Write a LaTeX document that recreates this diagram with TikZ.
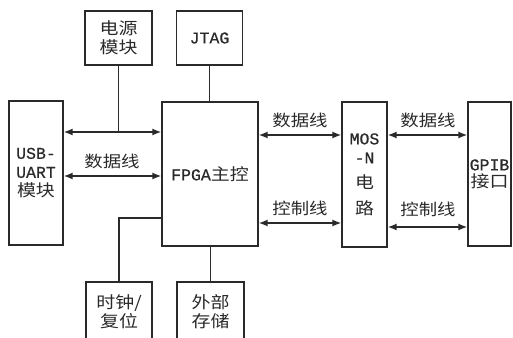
\documentclass[tikz,border=0pt]{standalone}
\usepackage{fontspec}
\setmainfont[FakeBold=0.5]{Liberation Mono}
\newfontfamily\cjk[FakeStretch=1.15]{Noto Sans CJK SC}
\usetikzlibrary{arrows.meta}
\definecolor{ink}{HTML}{2A2A2A}
\tikzset{
  blk/.style={draw=ink, line width=1.3pt, inner sep=0pt, align=center,
              font=\fontsize{16.5}{19}\selectfont, text=ink},
  bus/.style={draw=ink, line width=1.5pt, {Latex[length=9pt,width=7pt]}-{Latex[length=9pt,width=7pt]}},
  wire/.style={draw=ink, line width=1.3pt},
  lbl/.style={font=\fontsize{16}{19}\selectfont\cjk, text=ink, inner sep=0pt}
}
\begin{document}
\begin{tikzpicture}[x=1pt,y=-1pt]
\useasboundingbox (0,0) rectangle (513,337);
\fill[white] (0,0) rectangle (513,337);
% boxes
\node[blk, minimum width=67pt, minimum height=54pt] (pwr) at (118.5,38) {\cjk 电源\\\cjk 模块};
\node[blk, minimum width=66pt, minimum height=54pt] (jtag) at (209.5,38) {JTAG};
\node[blk, minimum width=54pt, minimum height=144pt] (usb) at (36,173) {USB-\\UART\\\cjk 模块};
\node[blk, minimum width=96pt, minimum height=144pt] (fpga) at (210,174) {FPGA{\cjk 主控}};
\node[blk, minimum width=45pt, minimum height=145pt] (mos) at (364.5,174.5) {MOS\\-N\\[6pt]\cjk 电\\[7pt]\cjk 路};
\node[blk, minimum width=43pt, minimum height=144pt] (gpib) at (489.5,174) {GPIB\\[-2pt]\cjk 接口};
\node[blk, minimum width=66pt, minimum height=60pt] (clk) at (119,312) {\cjk 时钟/\\\cjk 复位};
\node[blk, minimum width=67pt, minimum height=60pt] (mem) at (210.5,312) {\cjk 外部\\\cjk 存储};
% helper coordinates
\coordinate (yA) at (0,132);
\coordinate (yB) at (0,176);
\coordinate (yC) at (0,218);
\coordinate (yD) at (0,135);
\coordinate (yE) at (0,223);
\coordinate (yF) at (0,227);
% left side
\draw[bus] (usb.east |- yA) -- (fpga.west |- yA);
\draw[wire] (pwr.south) -- (pwr.south |- yA);
\draw[bus] (usb.east |- yB) -- (fpga.west |- yB);
\node[lbl] (l1) at (112,161) {数据线};
\draw[wire] (jtag.south) -- (jtag.south |- fpga.north);
\draw[wire] (fpga.west |- yC) -| (clk.north);
\draw[wire] (fpga.south -| mem.north) -- (mem.north);
% right side
\draw[bus] (fpga.east |- yD) -- (mos.west |- yD);
\node[lbl] (l2) at (300,120) {数据线};
\draw[bus] (fpga.east |- yE) -- (mos.west |- yE);
\node[lbl] (l3) at (300,208) {控制线};
\draw[bus] (mos.east |- yD) -- (gpib.west |- yD);
\node[lbl] (l4) at (428,120) {数据线};
\draw[bus] (mos.east |- yF) -- (gpib.west |- yF);
\node[lbl] (l5) at (428,209) {控制线};
\end{tikzpicture}
\end{document}
